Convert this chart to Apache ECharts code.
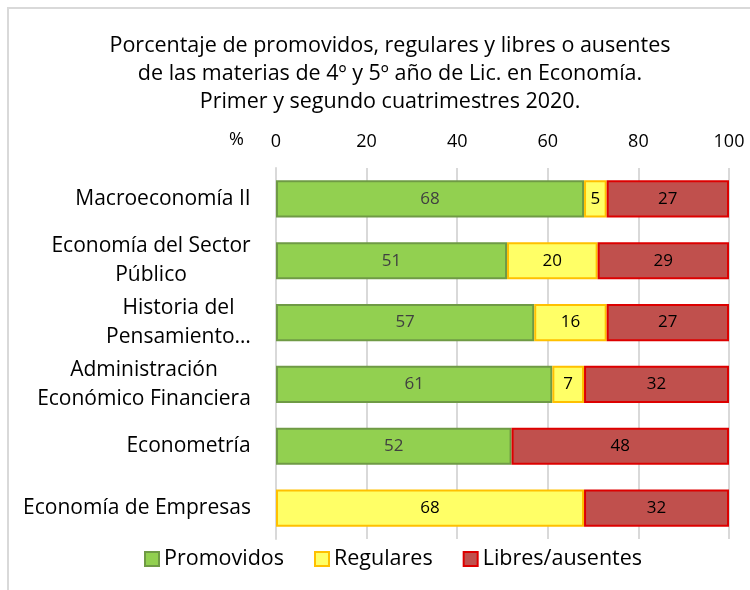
<!DOCTYPE html>
<html>
<head>
<meta charset="utf-8">
<script src="https://cdn.jsdelivr.net/npm/echarts@6/dist/echarts.min.js"></script>
<style>
  html, body { margin: 0; padding: 0; background: #fff; }
  #wrap { position: relative; width: 750px; height: 590px; }
  #chart { width: 750px; height: 590px; }
  #frame { position: absolute; left: 7px; top: 7px; right: 0; bottom: 0;
    border-left: 2px solid #d9d9d9; border-top: 2px solid #d9d9d9; pointer-events: none; }
</style>
</head>
<body>
<div id="wrap">
  <div id="chart"></div>
  <div id="frame"></div>
</div>
<script>
;(function () {
  'use strict';

  var categories = [
    'Macroeconomía II',
    'Economía del Sector\nPúblico',
    'Historia del\nPensamiento…',
    'Administración\nEconómico Financiera',
    'Econometría',
    'Economía de Empresas'
  ];
  var promovidos = [68, 51, 57, 61, 52, null];
  var regulares = [5, 20, 16, 7, null, 68];
  var libres = [27, 29, 27, 32, 48, 32];
  var ticks = [0, 20, 40, 60, 80, 100];

  var FONT = '"Open Sans", "Noto Sans", sans-serif';
  var CAT_SIZE = 21;

  // multi-line category labels are centred on their longest line, like Excel does
  function measure(text) {
    var ctx = document.createElement('canvas').getContext('2d');
    ctx.font = CAT_SIZE + 'px ' + FONT;
    return Math.ceil(ctx.measureText(text).width);
  }

  var rich = {};
  categories.forEach(function (c, i) {
    var w = Math.max.apply(null, c.split('\n').map(measure));
    rich['c' + i] = {
      width: w, align: 'center', fontFamily: FONT, fontSize: CAT_SIZE,
      color: '#000', lineHeight: 29
    };
  });

  function barSeries(name, data, fill, border, labelColor) {
    return {
      name: name,
      type: 'bar',
      stack: 'total',
      data: data,
      barWidth: '60%',
      itemStyle: { color: fill, borderColor: border, borderWidth: 2 },
      label: {
        show: true,
        position: 'inside',
        color: labelColor,
        fontFamily: FONT,
        fontSize: 17,
        formatter: function (p) { return p.value == null ? '' : p.value; }
      }
    };
  }

  function init() {
    var chart = echarts.init(document.getElementById('chart'));

    chart.setOption({
      animation: false,
      title: {
        text: 'Porcentaje de promovidos, regulares y libres o ausentes\nde las materias de 4º y 5º año de Lic. en Economía.\nPrimer y segundo cuatrimestres 2020.',
        left: 385,
        top: 27,
        textAlign: 'center',
        textStyle: {
          fontFamily: FONT,
          fontSize: 21.5,
          fontWeight: 'normal',
          color: '#000',
          lineHeight: 28
        }
      },
      legend: {
        bottom: 15,
        left: 139,
        itemWidth: 14,
        itemHeight: 14,
        itemGap: 30,
        icon: 'rect',
        textStyle: { fontFamily: FONT, fontSize: 21.5, color: '#000' },
        data: ['Promovidos', 'Regulares', 'Libres/ausentes']
      },
      grid: { left: 276, right: 21, top: 168, bottom: 51, containLabel: false },
      graphic: [{
        type: 'text',
        left: 229,
        top: 131,
        style: { text: '%', fontFamily: FONT, fontSize: 18, fill: '#000' }
      }],
      xAxis: {
        type: 'value',
        position: 'top',
        min: ticks[0],
        max: ticks[ticks.length - 1],
        interval: 20,
        axisLine: { show: false },
        axisTick: { show: false },
        axisLabel: { fontFamily: FONT, fontSize: 18, color: '#000', margin: 17 },
        splitLine: { lineStyle: { color: '#d9d9d9', width: 2 } }
      },
      yAxis: {
        type: 'category',
        inverse: true,
        data: categories,
        axisLine: { lineStyle: { color: '#d9d9d9', width: 2 } },
        axisTick: { show: false },
        axisLabel: {
          margin: 25,
          fontFamily: FONT,
          fontSize: CAT_SIZE,
          color: '#000',
          lineHeight: 29,
          formatter: function (v, i) {
            return v.split('\n').map(function (s) { return '{c' + i + '|' + s + '}'; }).join('\n');
          },
          rich: rich
        }
      },
      series: [
        barSeries('Promovidos', promovidos, '#92d050', '#6f9a45', '#404040'),
        barSeries('Regulares', regulares, '#ffff66', '#ffc000', '#000'),
        barSeries('Libres/ausentes', libres, '#c0504d', '#dd0000', '#000')
      ]
    });
  }

  init();
})();
</script>
</body>
</html>
